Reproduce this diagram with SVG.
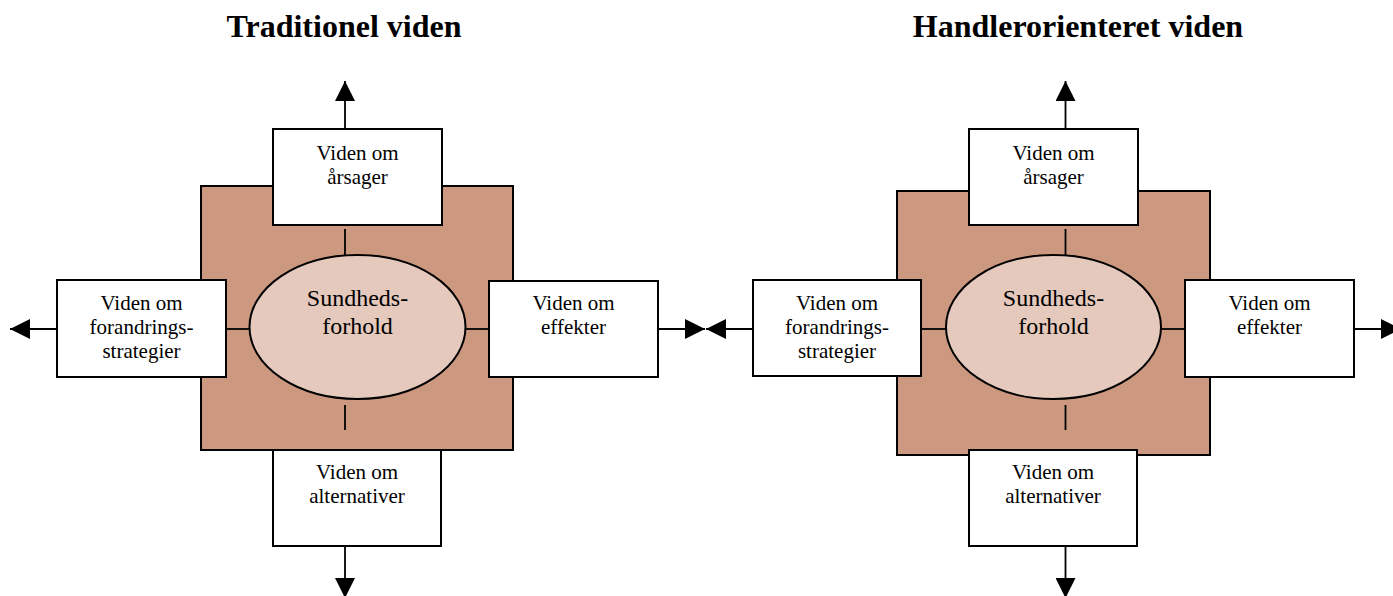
<svg xmlns="http://www.w3.org/2000/svg" width="1393" height="596" viewBox="0 0 1393 596">
<style>
  .title { font-family: "Liberation Serif", "Times New Roman", serif; font-size: 32px; font-weight: bold; fill: #000; text-anchor: middle; }
  .lbl { font-family: "Liberation Serif", "Times New Roman", serif; font-size: 21px; fill: #000; text-anchor: middle; }
  .core { font-family: "Liberation Serif", "Times New Roman", serif; font-size: 24px; fill: #000; text-anchor: middle; }
  .sq { fill: #CC9980; stroke: #000; stroke-width: 2; }
  .box { fill: #fff; stroke: #000; stroke-width: 2; }
  .ell { fill: #E5C9BC; stroke: #000; stroke-width: 2; }
  .ln { stroke: #000; stroke-width: 1.8; fill: none; }
</style>
<defs>
  <marker id="ah" viewBox="0 0 20 20" refX="20" refY="10" markerUnits="userSpaceOnUse" markerWidth="20" markerHeight="20" orient="auto">
    <path d="M0,0 L20,10 L0,20 z" fill="#000"/>
  </marker>
</defs>
<rect width="1393" height="596" fill="#fff"/>

<g id="title-left"><text class="title" x="344" y="37">Traditionel viden</text></g>
<g id="title-right"><text class="title" x="1078" y="37">Handlerorienteret viden</text></g>

<g id="L-square"><rect class="sq" x="201" y="186" width="312" height="264"/></g>
<g id="R-square"><rect class="sq" x="897" y="191" width="313" height="264"/></g>

<g id="connectors">
  <line class="ln" x1="345" y1="129" x2="345" y2="81" marker-end="url(#ah)"/>
  <line class="ln" x1="57" y1="329" x2="10" y2="329" marker-end="url(#ah)"/>
  <line class="ln" x1="658" y1="329" x2="705" y2="329" marker-end="url(#ah)"/>
  <line class="ln" x1="345" y1="546" x2="345" y2="598" marker-end="url(#ah)"/>
  <line class="ln" x1="345" y1="229" x2="345" y2="256"/>
  <line class="ln" x1="345" y1="405" x2="345" y2="430"/>
  <line class="ln" x1="226" y1="329" x2="250" y2="329"/>
  <line class="ln" x1="465" y1="329" x2="489" y2="329"/>
  <line class="ln" x1="1065.5" y1="129" x2="1065.5" y2="81" marker-end="url(#ah)"/>
  <line class="ln" x1="753" y1="329" x2="706" y2="329" marker-end="url(#ah)"/>
  <line class="ln" x1="1354" y1="329" x2="1401" y2="329" marker-end="url(#ah)"/>
  <line class="ln" x1="1065.5" y1="546" x2="1065.5" y2="598" marker-end="url(#ah)"/>
  <line class="ln" x1="1065.5" y1="229" x2="1065.5" y2="256"/>
  <line class="ln" x1="1065.5" y1="405" x2="1065.5" y2="430"/>
  <line class="ln" x1="921" y1="329" x2="947" y2="329"/>
  <line class="ln" x1="1160" y1="329" x2="1185" y2="329"/>
</g>

<g id="L-core">
  <ellipse class="ell" cx="357.5" cy="327" rx="108" ry="72"/>
  <text class="core" x="357.5" y="306">Sundheds-</text>
  <text class="core" x="357.5" y="334">forhold</text>
</g>
<g id="L-top">
  <rect class="box" x="273" y="129" width="169" height="96"/>
  <text class="lbl" x="357.5" y="160">Viden om</text>
  <text class="lbl" x="357.5" y="184">årsager</text>
</g>
<g id="L-left">
  <rect class="box" x="57" y="280" width="169" height="97"/>
  <text class="lbl" x="141.5" y="310">Viden om</text>
  <text class="lbl" x="141.5" y="334">forandrings-</text>
  <text class="lbl" x="141.5" y="358">strategier</text>
</g>
<g id="L-right">
  <rect class="box" x="489" y="281" width="169" height="96"/>
  <text class="lbl" x="573.5" y="310">Viden om</text>
  <text class="lbl" x="573.5" y="334">effekter</text>
</g>
<g id="L-bottom">
  <rect class="box" x="273" y="450" width="168" height="96"/>
  <text class="lbl" x="357" y="479">Viden om</text>
  <text class="lbl" x="357" y="503">alternativer</text>
</g>

<g id="R-core">
  <ellipse class="ell" cx="1053.5" cy="327" rx="107.5" ry="72"/>
  <text class="core" x="1053.5" y="306">Sundheds-</text>
  <text class="core" x="1053.5" y="334">forhold</text>
</g>
<g id="R-top">
  <rect class="box" x="969" y="129" width="169" height="96"/>
  <text class="lbl" x="1053.5" y="160">Viden om</text>
  <text class="lbl" x="1053.5" y="184">årsager</text>
</g>
<g id="R-left">
  <rect class="box" x="753" y="280" width="168" height="96"/>
  <text class="lbl" x="837" y="310">Viden om</text>
  <text class="lbl" x="837" y="334">forandrings-</text>
  <text class="lbl" x="837" y="358">strategier</text>
</g>
<g id="R-right">
  <rect class="box" x="1185" y="280" width="169" height="97"/>
  <text class="lbl" x="1269.5" y="310">Viden om</text>
  <text class="lbl" x="1269.5" y="334">effekter</text>
</g>
<g id="R-bottom">
  <rect class="box" x="969" y="450" width="168" height="96"/>
  <text class="lbl" x="1053" y="479">Viden om</text>
  <text class="lbl" x="1053" y="503">alternativer</text>
</g>
</svg>
